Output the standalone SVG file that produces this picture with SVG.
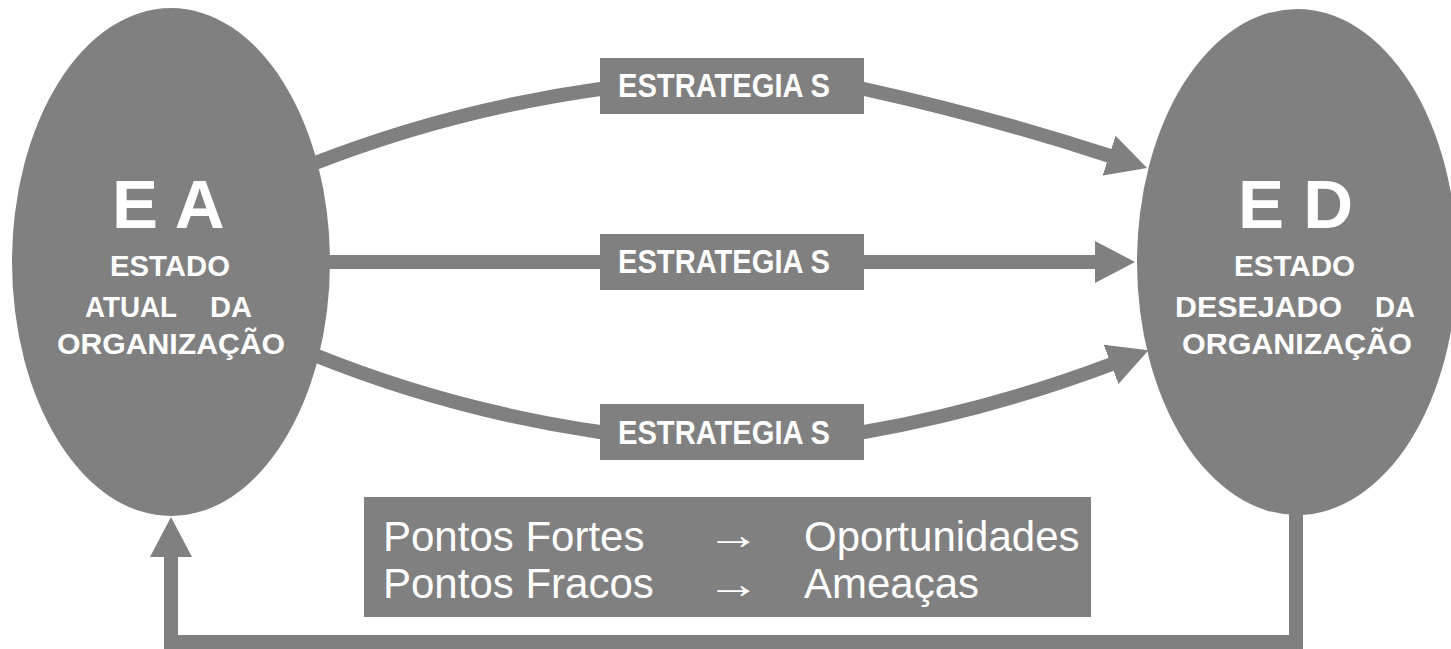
<svg xmlns="http://www.w3.org/2000/svg" width="1451" height="649" viewBox="0 0 1451 649">
<style>
.bg{fill:#ffffff}
.node{fill:#808080}
.conn{fill:none;stroke:#808080;stroke-width:14;stroke-linejoin:miter}
.big{font-family:"Liberation Sans",Arial,sans-serif;font-weight:bold;font-size:69px;fill:#ffffff}
.sub{font-family:"Liberation Sans",Arial,sans-serif;font-weight:bold;font-size:29px;fill:#ffffff}
.lbl{font-family:"Liberation Sans",Arial,sans-serif;font-weight:bold;font-size:33px;fill:#ffffff}
.note{font-family:"Liberation Sans",Arial,sans-serif;font-size:42px;fill:#ffffff}
</style>
<defs>
<marker id="head" markerUnits="userSpaceOnUse" viewBox="0 0 40 42" markerWidth="40" markerHeight="42" refX="1" refY="21" orient="auto">
<path d="M0,0 L40,21 L0,42 Z" fill="#808080"/>
</marker>
</defs>
<rect class="bg" x="0" y="0" width="1451" height="649"/>
<g id="connectors">
<path class="conn" d="M310,165 Q450,110 600,89 L864,89 Q987,116 1110,156" marker-end="url(#head)"/>
<path class="conn" d="M320,262 L1096,262" marker-end="url(#head)"/>
<path class="conn" d="M312,354 Q450,410 600,432 L864,432 Q990,410 1112,364" marker-end="url(#head)"/>
<path class="conn" d="M1296,500 L1296,642 L171,642 L171,556" marker-end="url(#head)"/>
</g>
<g id="node-ea">
<ellipse class="node" cx="171" cy="262" rx="159" ry="254"/>
<text class="big" x="112" y="228">E A</text>
<text class="sub" x="110" y="276" textLength="120" lengthAdjust="spacingAndGlyphs">ESTADO</text>
<text class="sub" x="85" y="317" textLength="92" lengthAdjust="spacingAndGlyphs">ATUAL</text>
<text class="sub" x="210" y="317" textLength="42" lengthAdjust="spacingAndGlyphs">DA</text>
<text class="sub" x="57" y="354" textLength="228" lengthAdjust="spacingAndGlyphs">ORGANIZAÇÃO</text>
</g>
<g id="node-ed">
<ellipse class="node" cx="1297" cy="262" rx="160" ry="253"/>
<text class="big" x="1238" y="228">E D</text>
<text class="sub" x="1234" y="276" textLength="121" lengthAdjust="spacingAndGlyphs">ESTADO</text>
<text class="sub" x="1175" y="317" textLength="167" lengthAdjust="spacingAndGlyphs">DESEJADO</text>
<text class="sub" x="1375" y="317" textLength="40" lengthAdjust="spacingAndGlyphs">DA</text>
<text class="sub" x="1182" y="354" textLength="230" lengthAdjust="spacingAndGlyphs">ORGANIZAÇÃO</text>
</g>
<g id="label-top">
<rect class="node" x="600" y="58" width="264" height="56"/>
<text class="lbl" x="618" y="97" textLength="212" lengthAdjust="spacingAndGlyphs">ESTRATEGIA S</text>
</g>
<g id="label-mid">
<rect class="node" x="600" y="234" width="264" height="56"/>
<text class="lbl" x="618" y="273" textLength="212" lengthAdjust="spacingAndGlyphs">ESTRATEGIA S</text>
</g>
<g id="label-bottom">
<rect class="node" x="600" y="404" width="264" height="56"/>
<text class="lbl" x="618" y="444" textLength="212" lengthAdjust="spacingAndGlyphs">ESTRATEGIA S</text>
</g>
<g id="swot-box">
<rect class="node" x="364" y="497" width="727" height="120"/>
<text class="note" x="383" y="551">Pontos Fortes</text>
<text class="note" x="706" y="549" textLength="54" lengthAdjust="spacingAndGlyphs">→</text>
<text class="note" x="804" y="551">Oportunidades</text>
<text class="note" x="383" y="598">Pontos Fracos</text>
<text class="note" x="706" y="598" textLength="54" lengthAdjust="spacingAndGlyphs">→</text>
<text class="note" x="804" y="598">Ameaças</text>
</g>
</svg>
